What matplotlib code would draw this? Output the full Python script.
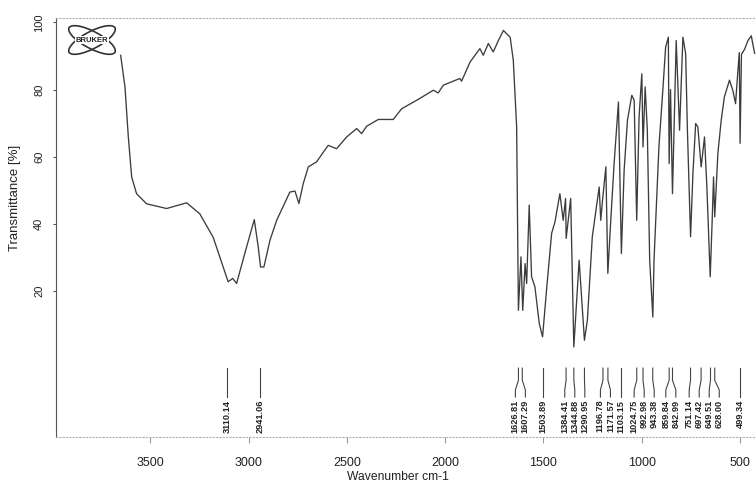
#FTIR spectrum (Bruker style) with peak picking labels

import numpy as np
import matplotlib.pyplot as plt
from matplotlib.patches import Ellipse

plt.rcParams['font.family'] = ['Liberation Sans', 'DejaVu Sans']

# spectrum (wavenumber cm-1, transmittance %)
wavenumber = [3651, 3629, 3612, 3595, 3570, 3519, 3417, 3315, 3248, 3180,
              3129, 3104, 3081, 3061, 3010, 2971, 2951, 2939, 2922, 2891,
              2857, 2790, 2764, 2744, 2722, 2696, 2654, 2595, 2552, 2501,
              2450, 2425, 2399, 2340, 2264, 2221, 2145, 2060, 2035, 2009,
              1925, 1916, 1873, 1823, 1806, 1780, 1755, 1729, 1703, 1687,
              1669, 1653, 1636, 1627, 1614, 1605, 1593, 1585, 1572, 1560,
              1543, 1521, 1504, 1484, 1458, 1441, 1416, 1399, 1387, 1384,
              1361, 1345, 1318, 1291, 1276, 1251, 1216, 1208, 1199, 1182,
              1172, 1157, 1140, 1118, 1103, 1089, 1072, 1050, 1038, 1025,
              1013, 999, 993, 982, 971, 959, 943, 937, 912, 891,
              878, 864, 860, 853, 843, 824, 807, 790, 776, 767,
              751, 739, 725, 714, 697, 680, 668, 651, 641, 634,
              628, 612, 595, 579, 553, 536, 522, 510, 503, 499,
              492, 476, 459, 442, 425]
transmittance = [90.2, 80.8, 65.9, 54.0, 49.0, 46.0, 44.6, 46.3, 43.0, 36.0,
                 27.2, 22.8, 23.8, 22.3, 33.2, 41.3, 33.2, 27.2, 27.2, 35.2,
                 41.1, 49.5, 49.8, 46.1, 52.0, 57.0, 58.5, 63.4, 62.4, 65.9,
                 68.4, 66.9, 69.1, 71.1, 71.1, 74.3, 76.8, 79.8, 79.0, 81.3,
                 83.3, 82.5, 88.2, 92.2, 90.2, 93.7, 91.2, 94.6, 97.6, 96.6,
                 95.6, 88.7, 68.9, 14.3, 30.2, 14.3, 28.2, 22.3, 45.6, 24.3,
                 21.3, 10.4, 6.4, 20.3, 37.2, 40.6, 49.0, 41.1, 47.6, 35.7,
                 47.6, 3.4, 29.2, 5.4, 11.4, 36.2, 51.0, 41.1, 47.0, 57.0,
                 25.3, 41.1, 58.0, 76.3, 31.2, 56.0, 70.9, 78.3, 76.8, 41.1,
                 71.8, 84.7, 62.9, 80.8, 67.9, 29.2, 12.3, 29.2, 62.9, 80.8,
                 92.6, 95.6, 58.0, 80.0, 49.0, 94.6, 67.9, 95.6, 90.7, 67.9,
                 36.2, 55.0, 69.9, 68.9, 57.0, 65.9, 51.0, 24.3, 41.1, 54.0,
                 42.1, 61.0, 70.9, 77.8, 82.8, 79.8, 75.8, 85.7, 91.0, 64.0,
                 90.5, 92.0, 94.6, 96.0, 90.8]

peaks = [3110.14, 2941.06, 1626.81, 1607.29, 1503.89, 1384.41, 1344.88,
         1290.95, 1196.78, 1171.57, 1103.15, 1024.75, 992.98, 943.38,
         859.84, 842.99, 751.14, 697.42, 649.51, 628.00, 499.34]

xticks = [3500, 3000, 2500, 2000, 1500, 1000, 500]
yticks = [20, 40, 60, 80, 100]

W, H = 756, 484
fig = plt.figure(figsize=(W/100, H/100), dpi=100)
ax = fig.add_axes([56/W, 1-437/H, 700/W, 419/H])

ax.plot(wavenumber, transmittance, color='#3c3c3c', lw=0.95)
ax.set_xlim(3980, 418)
ax.set_ylim(-23.4, 101.3)

ax.set_xticks(xticks)
ax.set_yticks(yticks)
ax.tick_params(axis='x', length=4, pad=10.5, labelsize=9, color='#999999', labelcolor='#222222')
ax.tick_params(axis='y', length=2.5, pad=6, labelsize=8, labelrotation=90, color='#555555', labelcolor='#222222')
for lab in ax.get_yticklabels():
    lab.set_va('center')

ax.spines['right'].set_visible(False)
for s in ['top', 'bottom']:
    ax.spines[s].set_color('#b0b0b0')
    ax.spines[s].set_linestyle((0, (1, 2)))
ax.spines['left'].set_color('#555555')

ax.set_xlabel('Wavenumber cm-1', fontsize=8.7, color='#222222')
ax.xaxis.set_label_coords(0.489, -0.08)
ax.set_ylabel('Transmittance [%]', fontsize=9.5, color='#222222')
ax.yaxis.set_label_coords(-0.05, 0.57)

# spread the peak labels so they do not overlap
pos = np.array(peaks, dtype=float)
gap = 51.0
for _ in range(300):
    for i in range(len(pos)-1):
        d = pos[i] - pos[i+1]
        if d < gap:
            sh = (gap - d)/2
            pos[i] += sh
            pos[i+1] -= sh

for p, q in zip(peaks, pos):
    ax.plot([p, p, q, q], [-2.9, -6.5, -9.4, -11.5], color='#444444', lw=0.8, clip_on=False)
    ax.text(q, -12.3, '%.2f' % p, rotation=90, ha='center', va='top',
            fontsize=6.6, fontweight='bold', color='#222222')

# Bruker logo
lg = fig.add_axes([62/W, 1-58/H, 60/W, 36/H])
lg.set_xlim(0, 60)
lg.set_ylim(0, 36)
lg.axis('off')
for ang in (28, -28):
    lg.add_patch(Ellipse((30, 18), 52, 17, angle=ang, fill=False, lw=1.2, ec='#333333'))
lg.text(30, 18, 'BRUKER', ha='center', va='center', fontsize=5.5, fontweight='bold',
        color='#222222', bbox=dict(fc='white', ec='none', pad=0.3))

fig.savefig('out.png', dpi=100)
